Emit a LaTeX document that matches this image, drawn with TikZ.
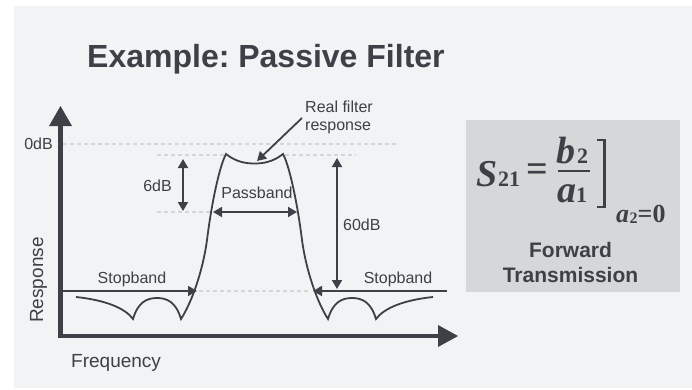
\documentclass[tikz,border=0pt]{standalone}
\usepackage{fontspec}
\setmainfont{Liberation Sans}
\newfontfamily\formulafont{Liberation Serif}
\usetikzlibrary{arrows.meta}
\definecolor{ink}{HTML}{3D4047}
\definecolor{panel}{HTML}{F2F3F5}
\definecolor{boxgray}{HTML}{D6D7D9}
\definecolor{guide}{HTML}{D3D5D8}
\newcommand\fsz[1]{\fontsize{#1}{#1}\selectfont}
\frenchspacing
\begin{document}
\begin{tikzpicture}[x=1pt,y=-1pt,
  lbl/.style={text=ink, inner sep=0pt, font=\fsz{16}},
  guideline/.style={draw=guide, line width=2.4pt, dash pattern=on 4pt off 3pt},
  arr/.style={draw=ink, line width=1.8pt, -{Triangle[length=9pt,width=10pt]}},
  dblarr/.style={draw=ink, line width=1.8pt,
    {Triangle[length=9pt,width=10pt]}-{Triangle[length=9pt,width=10pt]}},
  filtercurve/.style={draw=ink, line width=1.8pt, line join=miter},
  mathtxt/.style={text=ink, inner sep=0pt, anchor=base west}]

\useasboundingbox (0,0) rectangle (692,389);
\fill[white] (0,0) rectangle (692,389);
\fill[panel] (14,6) rectangle (692,388);

% title
\node[text=ink, inner sep=0pt, anchor=base west, font=\fsz{32}\bfseries]
  (title) at (87,67) {Example: Passive Filter};

% reference levels
\draw[guideline] (63,144) -- (398,144);
\draw[guideline] (157,155) -- (224,155);
\draw[guideline] (285,155) -- (356,155);
\draw[guideline] (157,212) -- (210,212);
\draw[guideline] (199,291) -- (309,291);

% axes
\draw[ink, line width=4.5pt, line join=miter] (60.5,125) -- (60.5,336) -- (439,336);
\fill[ink] (60.5,106) -- (72,126) -- (49,126) -- cycle;
\fill[ink] (458,336) -- (438,325) -- (438,347) -- cycle;

% filter response
\draw[filtercurve]
  (76,297) .. controls (105,300) and (125,308) .. (133,319)
  .. controls (138,302) and (147,298) .. (157,298)
  .. controls (167,298) and (176,302) .. (181,319)
  .. controls (192,302) and (203,270) .. (207,240)
  .. controls (212,200) and (220,165) .. (226,154)
  .. controls (236,162) and (246,163.5) .. (254.5,163.5)
  .. controls (263,163.5) and (273,162) .. (283,154)
  .. controls (289,165) and (297,200) .. (302,240)
  .. controls (306,270) and (317,302) .. (328,319)
  .. controls (333,302) and (342,298) .. (352,298)
  .. controls (362,298) and (371,302) .. (376,319)
  .. controls (384,308) and (404,300) .. (433,297);

% arrow end points
\coordinate (sixT) at (183,159);
\coordinate (sixB) at (183,211);
\coordinate (pbL) at (213,212);
\coordinate (pbR) at (297,212);
\coordinate (sxT) at (337,158);
\coordinate (sxB) at (337,289);
\coordinate (sbLs) at (60.5,291);
\coordinate (sbLe) at (197,291);
\coordinate (sbRs) at (447,291);
\coordinate (sbRe) at (313,291);
\coordinate (lead) at (302,118);
\coordinate (dip) at (257,161);

\draw[dblarr] (sixT) -- (sixB);
\draw[dblarr] (pbL) -- (pbR);
\draw[dblarr] (sxT) -- (sxB);
\draw[arr] (sbLs) -- (sbLe);
\draw[arr] (sbRs) -- (sbRe);
\draw[arr] (lead) -- (dip);

% labels
\node[lbl, anchor=base east] (zero) at (53,149) {0dB};
\node[lbl, anchor=base] (six) at (157.5,191) {6dB};
\node[lbl, anchor=base] (pass) at (257,198) {Passband};
\node[lbl, anchor=base west] (sixty) at (343,230) {60dB};
\node[lbl, anchor=base west] (real1) at (305,112) {Real filter};
\node[lbl, anchor=base west] (real2) at (305,130) {response};
\node[lbl, anchor=base] (stopL) at (132,283) {Stopband};
\node[lbl, anchor=base] (stopR) at (398,283) {Stopband};
\node[lbl, anchor=base west, font=\fsz{19}] (freq) at (71,367) {Frequency};
\node[lbl, anchor=base, font=\fsz{19}, rotate=90] (resp) at (43,280) {Response};

% S-parameter box
\fill[boxgray] (466,120) rectangle (680,292);
\node[mathtxt, font=\formulafont\fsz{38}\bfseries\itshape] (S) at (476,186) {S};
\node[mathtxt, font=\formulafont\fsz{22}\bfseries] (S21) at (498,186) {21};
\node[text=ink, inner sep=0pt, font=\formulafont\fsz{38}\bfseries] (eq) at (537,173) {=};
\draw[ink, line width=2pt] (558,171) -- (590,171);
\node[mathtxt, font=\formulafont\fsz{38}\bfseries\itshape] (b) at (556,163) {b};
\node[mathtxt, font=\formulafont\fsz{22}\bfseries] (b2) at (577,163) {2};
\node[mathtxt, font=\formulafont\fsz{38}\bfseries\itshape] (a) at (557,202) {a};
\node[mathtxt, font=\formulafont\fsz{22}\bfseries] (a1) at (576,202) {1};
\draw[ink, line width=2pt] (597,140) -- (606,140);
\draw[ink, line width=2pt] (597,207) -- (606,207);
\draw[ink, line width=3.5pt] (604.5,139) -- (604.5,208);
\node[mathtxt, font=\formulafont\fsz{26}\bfseries] (cond) at (616,222)
  {\textit{a}\kern0.5pt\raisebox{-1pt}{\fsz{16}2}=0};
\node[lbl, anchor=base, font=\fsz{21}\bfseries] (fwd) at (570.5,257) {Forward};
\node[lbl, anchor=base, font=\fsz{21}\bfseries] (trans) at (570.5,282) {Transmission};
\end{tikzpicture}
\end{document}
